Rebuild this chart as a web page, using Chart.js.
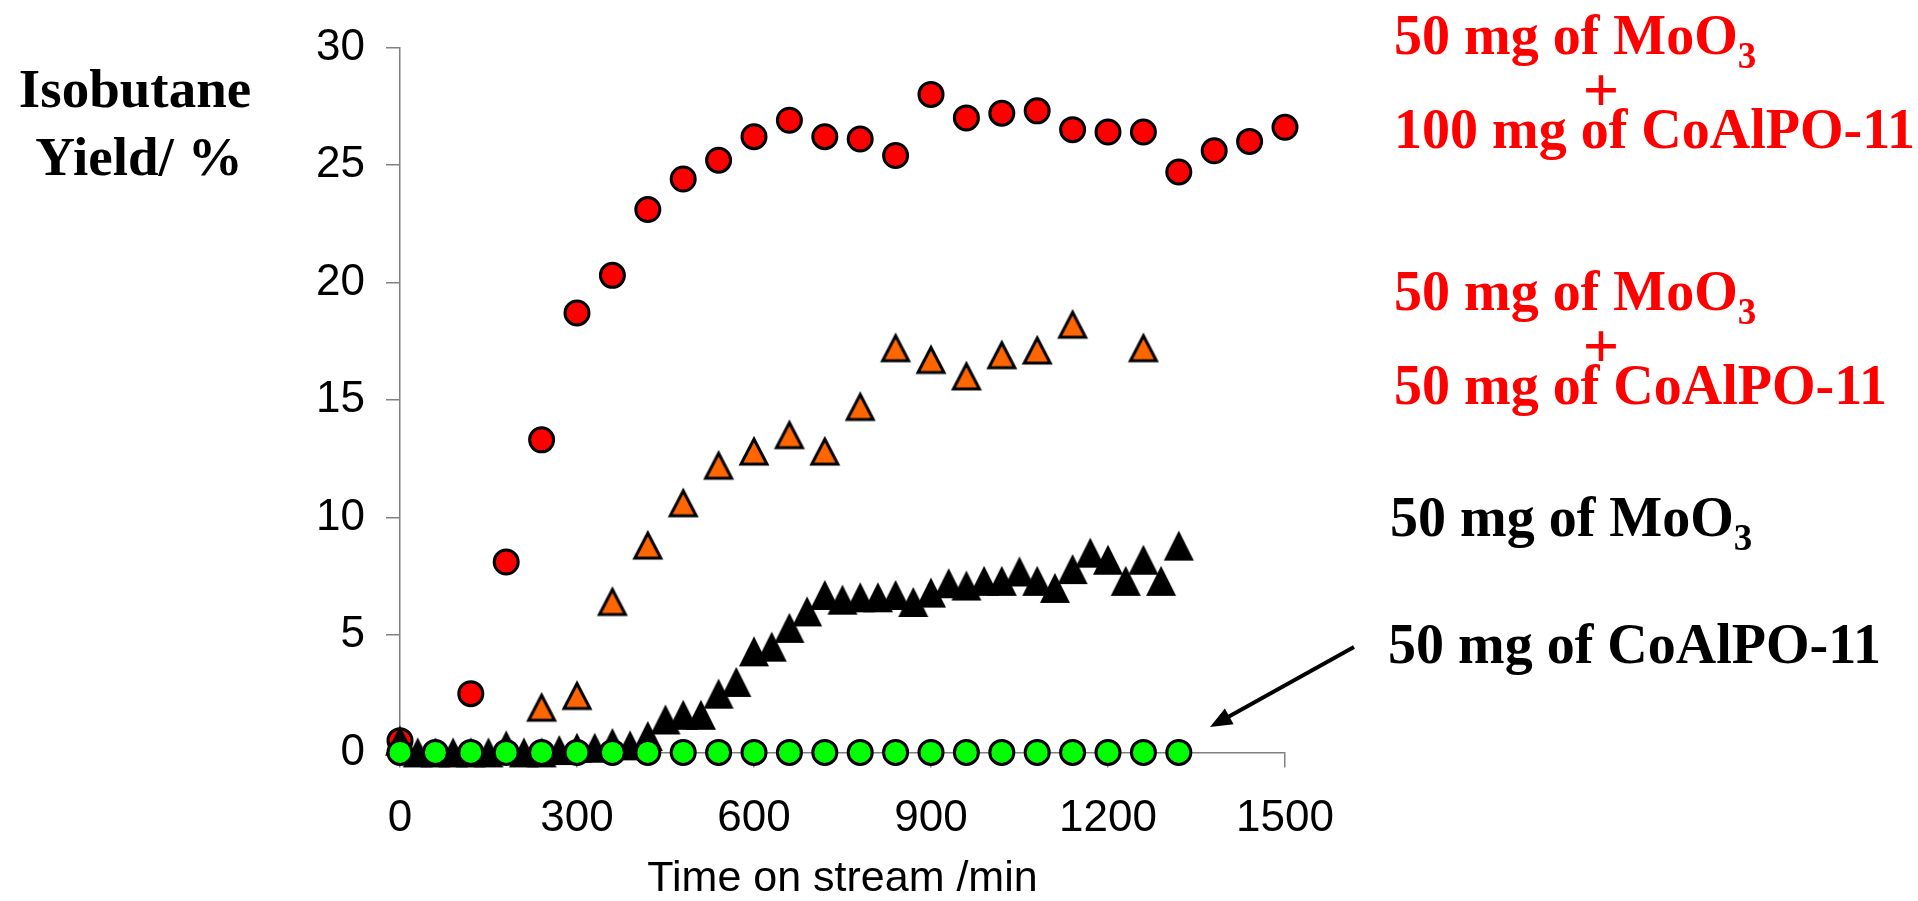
<!DOCTYPE html>
<html lang="en">
<head>
<meta charset="UTF-8" />
<title>Isobutane yield vs time on stream</title>
<script src="https://cdn.jsdelivr.net/npm/chart.js"></script>
<style>
  html, body { margin: 0; padding: 0; background: #fff; }
  canvas { display: block; }
</style>
</head>
<body>
<canvas id="chart" width="1918" height="901"></canvas>
<script>
  // tick labels
  const xTicks = [0, 300, 600, 900, 1200, 1500];
  const yTicks = [0, 5, 10, 15, 20, 25, 30];

  // 50 mg MoO3 + 100 mg CoAlPO-11 (red circles)
  const timeMix100 = [0, 120, 180, 240, 300, 360, 420, 480, 540, 600, 660, 720, 780, 840, 900, 960, 1020, 1080, 1140, 1200, 1260, 1320, 1380, 1440, 1500];
  const yieldMix100 = [0.5, 2.5, 8.1, 13.3, 18.7, 20.3, 23.1, 24.4, 25.2, 26.2, 26.9, 26.2, 26.1, 25.4, 28.0, 27.0, 27.2, 27.3, 26.5, 26.4, 26.4, 24.7, 25.6, 26.0, 26.6];

  // 50 mg MoO3 + 50 mg CoAlPO-11 (orange triangles)
  const timeMix50 = [240, 300, 360, 420, 480, 540, 600, 660, 720, 780, 840, 900, 960, 1020, 1080, 1140, 1260];
  const yieldMix50 = [1.9, 2.4, 6.4, 8.8, 10.6, 12.2, 12.8, 13.5, 12.8, 14.7, 17.2, 16.7, 16.0, 16.9, 17.1, 18.2, 17.2];

  // 50 mg MoO3 (black triangles)
  const timeMoO3 = [0, 30, 60, 90, 120, 150, 180, 210, 240, 270, 300, 330, 360, 390, 420, 450, 480, 510, 540, 570, 600, 630, 660, 690, 720, 750, 780, 810, 840, 870, 900, 930, 960, 990, 1020, 1050, 1080, 1110, 1140, 1170, 1200, 1230, 1260, 1290, 1320];
  const yieldMoO3 = [0.5, 0, 0, 0, 0, 0, 0.3, 0, 0, 0.1, 0.2, 0.2, 0.4, 0.3, 0.7, 1.4, 1.6, 1.6, 2.5, 3.0, 4.3, 4.5, 5.3, 6.0, 6.7, 6.5, 6.6, 6.6, 6.7, 6.4, 6.8, 7.2, 7.1, 7.3, 7.3, 7.7, 7.3, 7.0, 7.8, 8.5, 8.2, 7.3, 8.2, 7.3, 8.8];

  // 50 mg CoAlPO-11 (green circles)
  const timeCoAlPO = [0, 60, 120, 180, 240, 300, 360, 420, 480, 540, 600, 660, 720, 780, 840, 900, 960, 1020, 1080, 1140, 1200, 1260, 1320];
  const yieldCoAlPO = [0, 0, 0, 0, 0, 0, 0, 0, 0, 0, 0, 0, 0, 0, 0, 0, 0, 0, 0, 0, 0, 0, 0];

  const pts = (xs, ys) => xs.map((x, i) => ({ x, y: ys[i] }));

  // Excel-like triangle marker (bbox centred on the point)
  function triangle(fill, lw, w, h) {
    const pad = 5;
    const c = document.createElement('canvas');
    c.width = w + pad * 2; c.height = h + pad * 2;
    const g = c.getContext('2d');
    g.beginPath();
    g.moveTo(c.width / 2, pad);
    g.lineTo(pad + w, pad + h);
    g.lineTo(pad, pad + h);
    g.closePath();
    g.fillStyle = fill;
    g.fill();
    if (lw) { g.lineWidth = lw; g.strokeStyle = '#000'; g.stroke(); }
    return c;
  }

  const serif = '"Liberation Serif", "Times New Roman", serif';
  const sans = '"Liberation Sans", Arial, sans-serif';

  // text blocks on the right: [text, subscript, x, baseline, colour, align]
  const labels = [
    ['50 mg of MoO', '3', 1394, 54, '#ff0000', 'left'],
    ['+', '', 1601, 111, '#ff0000', 'center'],
    ['100 mg of CoAlPO-11', '', 1394, 148, '#ff0000', 'left'],
    ['50 mg of MoO', '3', 1394, 310, '#ff0000', 'left'],
    ['+', '', 1601, 367, '#ff0000', 'center'],
    ['50 mg of CoAlPO-11', '', 1394, 404, '#ff0000', 'left'],
    ['50 mg of MoO', '3', 1390, 536, '#000', 'left'],
    ['50 mg of CoAlPO-11', '', 1388, 663, '#000', 'left']
  ];

  const extras = {
    id: 'extras',
    afterDraw(chart) {
      const ctx = chart.ctx;
      ctx.save();
      // y axis title, horizontal
      ctx.fillStyle = '#000';
      ctx.font = 'bold 55px ' + serif;
      ctx.textAlign = 'center';
      ctx.textBaseline = 'alphabetic';
      ctx.fillText('Isobutane', 135, 107);
      ctx.fillText('Yield/ %', 139, 175);

      labels.forEach(([t, sub, x, y, col, align]) => {
        ctx.fillStyle = col;
        ctx.font = (t === '+' ? 'bold 64px ' : 'bold 56px ') + serif;
        ctx.textAlign = align;
        ctx.fillText(t, x, y);
        if (sub) {
          const w = ctx.measureText(t).width;
          ctx.font = 'bold 37px ' + serif;
          ctx.textAlign = 'left';
          ctx.fillText(sub, x + w, y + 14);
        }
      });

      // arrow pointing at the green series
      const x0 = 1354, y0 = 647, x1 = 1210, y1 = 727;
      const a = Math.atan2(y1 - y0, x1 - x0);
      ctx.strokeStyle = '#000';
      ctx.fillStyle = '#000';
      ctx.lineWidth = 4;
      ctx.beginPath();
      ctx.moveTo(x0, y0);
      ctx.lineTo(x1 - 16 * Math.cos(a), y1 - 16 * Math.sin(a));
      ctx.stroke();
      ctx.beginPath();
      ctx.moveTo(x1, y1);
      ctx.lineTo(x1 - 22 * Math.cos(a) + 9 * Math.sin(a), y1 - 22 * Math.sin(a) - 9 * Math.cos(a));
      ctx.lineTo(x1 - 22 * Math.cos(a) - 9 * Math.sin(a), y1 - 22 * Math.sin(a) + 9 * Math.cos(a));
      ctx.closePath();
      ctx.fill();
      ctx.restore();
    }
  };

  const axisGrid = (len) => ({ drawOnChartArea: false, drawTicks: true, tickLength: len, color: '#808080', lineWidth: 1.5 });

  new Chart(document.getElementById('chart'), {
    type: 'scatter',
    data: {
      datasets: [
        { label: '50 mg of CoAlPO-11', data: pts(timeCoAlPO, yieldCoAlPO), pointStyle: 'circle', pointRadius: 12, backgroundColor: '#00ff00', borderColor: '#000', borderWidth: 3, clip: false },
        { label: '50 mg of MoO3', data: pts(timeMoO3, yieldMoO3), pointStyle: triangle('#000', 0, 30, 30), pointRadius: 15, clip: false },
        { label: '50 mg of MoO3 + 50 mg of CoAlPO-11', data: pts(timeMix50, yieldMix50), pointStyle: triangle('#ff6600', 3, 26, 25), pointRadius: 15, clip: false },
        { label: '50 mg of MoO3 + 100 mg of CoAlPO-11', data: pts(timeMix100, yieldMix100), pointStyle: 'circle', pointRadius: 12, backgroundColor: '#ff0000', borderColor: '#000', borderWidth: 3, clip: false }
      ]
    },
    options: {
      responsive: false,
      animation: false,
      events: [],
      layout: { padding: { left: 0, top: 46.7, right: 633, bottom: 0 } },
      plugins: { legend: { display: false }, tooltip: { enabled: false } },
      scales: {
        x: {
          type: 'linear', min: 0, max: 1500,
          afterBuildTicks: s => { s.ticks = xTicks.map(v => ({ value: v })); },
          afterFit: s => { s.height = 148.6; },
          grid: axisGrid(15),
          border: { color: '#808080', width: 1.5 },
          ticks: { font: { family: sans, size: 44 }, color: '#000', padding: 25, maxRotation: 0, autoSkip: false, callback: v => String(v) },
          title: { display: true, text: 'Time on stream /min', color: '#000', font: { family: sans, size: 43, lineHeight: 1 }, padding: 0 }
        },
        y: {
          min: 0, max: 30,
          afterBuildTicks: s => { s.ticks = yTicks.map(v => ({ value: v })); },
          afterFit: s => { s.width = 400; },
          grid: axisGrid(14),
          border: { color: '#808080', width: 1.5 },
          ticks: { font: { family: sans, size: 44 }, color: '#000', padding: 21, callback: v => String(v) }
        }
      }
    },
    plugins: [extras]
  });
</script>
</body>
</html>
